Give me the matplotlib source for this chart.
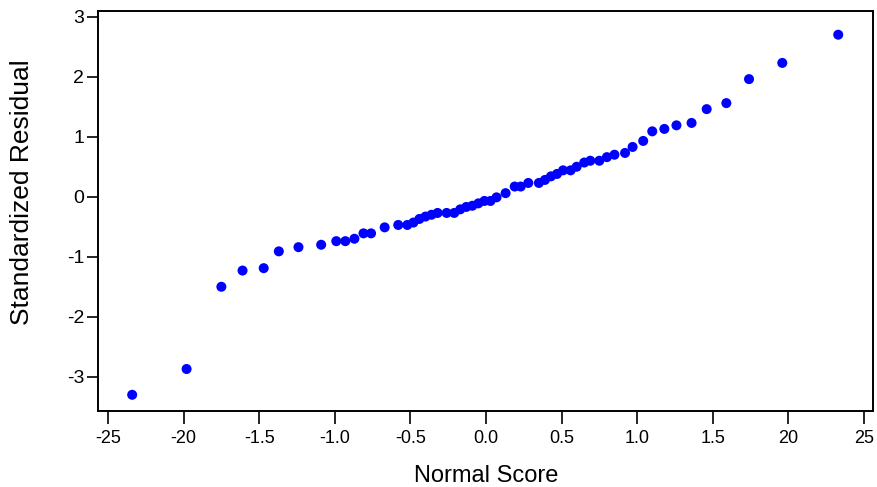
import matplotlib
matplotlib.use("Agg")
import matplotlib.pyplot as plt

plt.rcParams['font.family'] = ['Liberation Sans', 'DejaVu Sans']

# normal scores and standardized residuals
normal_score = [-2.34, -1.98, -1.75, -1.61, -1.47, -1.37, -1.24, -1.09, -0.99, -0.93,
                -0.87, -0.81, -0.76, -0.67, -0.58, -0.52, -0.48, -0.44, -0.40, -0.36,
                -0.32, -0.26, -0.21, -0.17, -0.13, -0.09, -0.05, -0.01, 0.03, 0.07,
                0.13, 0.19, 0.23, 0.28, 0.35, 0.39, 0.43, 0.47, 0.51, 0.56,
                0.60, 0.65, 0.69, 0.75, 0.80, 0.85, 0.92, 0.97, 1.04, 1.10,
                1.18, 1.26, 1.36, 1.46, 1.59, 1.74, 1.96, 2.33]
std_resid = [-3.30, -2.87, -1.50, -1.23, -1.19, -0.91, -0.84, -0.80, -0.74, -0.74,
             -0.70, -0.61, -0.61, -0.51, -0.47, -0.47, -0.43, -0.37, -0.33, -0.30,
             -0.27, -0.27, -0.27, -0.21, -0.17, -0.15, -0.11, -0.07, -0.07, -0.01,
             0.06, 0.17, 0.17, 0.23, 0.23, 0.28, 0.34, 0.38, 0.44, 0.44,
             0.50, 0.57, 0.60, 0.60, 0.66, 0.70, 0.73, 0.83, 0.93, 1.09,
             1.13, 1.19, 1.23, 1.46, 1.56, 1.96, 2.23, 2.70]

xticks = [-2.5, -2.0, -1.5, -1.0, -0.5, 0.0, 0.5, 1.0, 1.5, 2.0, 2.5]
xtick_labels = ['-25', '-20', '-1.5', '-1.0', '-0.5', '0.0', '0.5', '1.0', '1.5', '20', '25']
yticks = [-3, -2, -1, 0, 1, 2, 3]

W, H = 877, 487
fig = plt.figure(figsize=(W / 100, H / 100), dpi=100)
ax = fig.add_axes([98 / W, 1 - 411 / H, 775 / W, 400 / H])

ax.scatter(normal_score, std_resid, s=52, color='#0000FF', edgecolors='none', zorder=3)

ax.set_xlim(-2.566, 2.56)
ax.set_ylim(-3.57, 3.095)
ax.set_xticks(xticks)
ax.set_xticklabels(xtick_labels)
ax.set_yticks(yticks)
ax.set_yticklabels([str(v) for v in yticks])

for sp in ax.spines.values():
    sp.set_linewidth(1.4)
    sp.set_color('black')
ax.tick_params(axis='x', direction='out', length=9.5, width=1.2, labelsize=13, pad=4)
ax.tick_params(axis='y', direction='out', length=8, width=1.2, labelsize=14, pad=2)

fig.text(22 / W, 1 - 192 / H, 'Standardized Residual', rotation=90,
         ha='center', va='center', fontsize=19)
fig.text(486 / W, 1 - 465 / H, 'Normal Score', ha='center', va='top', fontsize=17)

fig.savefig('out.png', dpi=100)
